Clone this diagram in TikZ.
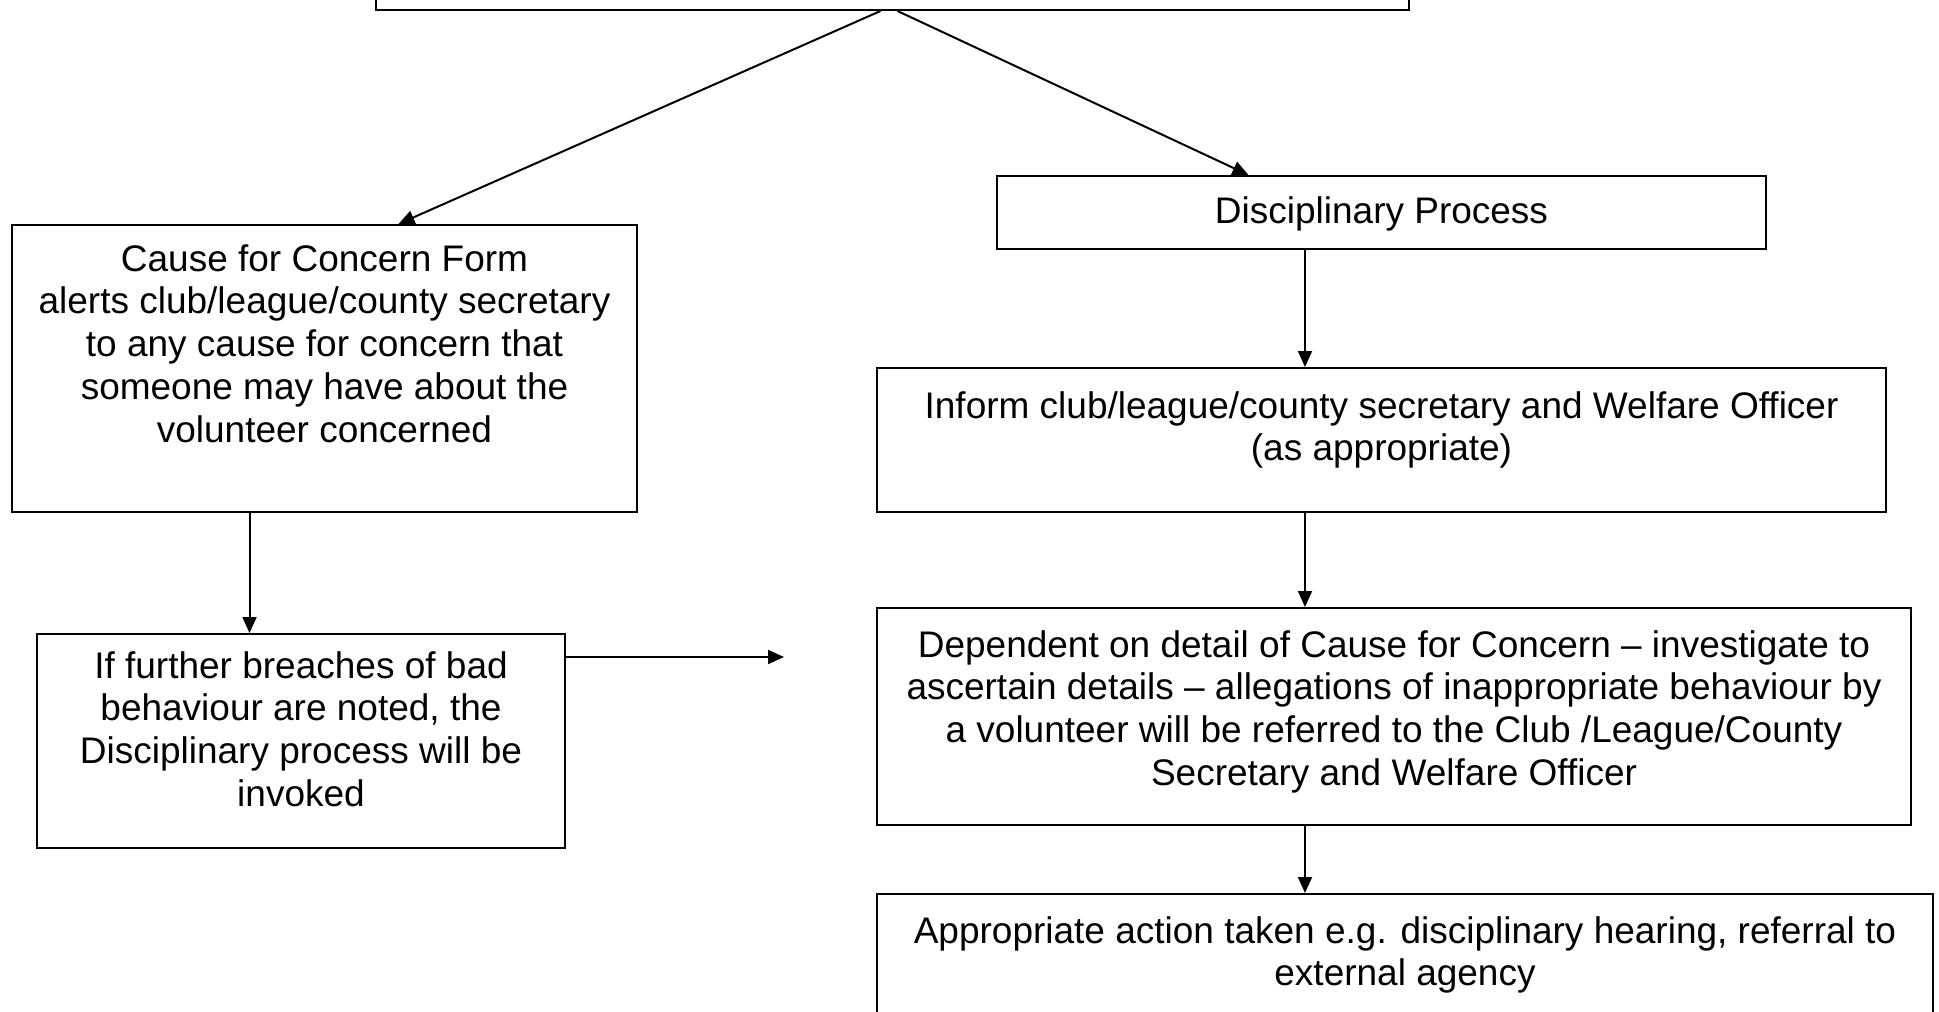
\documentclass[tikz,border=0pt]{standalone}
\usepackage{fontspec}
\setmainfont{Liberation Sans}
\usetikzlibrary{arrows.meta,calc}
\begin{document}
\begin{tikzpicture}[x=1pt,y=-1pt,
  box/.style={draw,line width=2pt,rectangle,inner sep=0pt},
  txt/.style={anchor=north,align=center,inner sep=0pt,font=\fontsize{37}{42.7}\selectfont},
  arr/.style={line width=2pt,-{Triangle[length=16pt,width=14pt]}}]
\clip (0,0) rectangle (1939,1012);
\fill[white] (0,0) rectangle (1939,1012);
% boxes
\node[box,minimum width=1033pt,minimum height=60pt] (top) at (892.5,-20) {};
\node[box,minimum width=625pt,minimum height=287pt] (b1) at (324.5,368.5) {};
\node[box,minimum width=528pt,minimum height=214pt] (b2) at (301,741) {};
\node[box,minimum width=769pt,minimum height=73pt] (disc) at (1381.5,212.5) {};
\node[box,minimum width=1009pt,minimum height=144pt] (inf) at (1381.5,440) {};
\node[box,minimum width=1034pt,minimum height=217pt] (dep) at (1394,716.5) {};
\node[box,minimum width=1056pt,minimum height=160pt] (app) at (1405,974) {};
% texts
\node[txt] (t1) at ($(b1.north)+(0,17)$) {\rule{0pt}{30pt}Cause for Concern Form\\alerts club/league/county secretary\\to any cause for concern that\\someone may have about the\\volunteer concerned};
\node[txt] (t2) at ($(b2.north)+(0,15)$) {\rule{0pt}{30pt}If further breaches of bad\\behaviour are noted, the\\Disciplinary process will be\\invoked};
\node[txt] (t3) at ($(disc.north)+(0,18)$) {\rule{0pt}{30pt}Disciplinary Process};
\node[txt] (t4) at ($(inf.north)+(0,21)$) {\rule{0pt}{30pt}Inform club/league/county secretary and Welfare Officer\\(as appropriate)};
\node[txt] (t5) at ($(dep.north)+(0,20)$) {\rule{0pt}{30pt}Dependent on detail of Cause for Concern – investigate to\\ascertain details – allegations of inappropriate behaviour by\\a volunteer will be referred to the Club /League/County\\Secretary and Welfare Officer};
\node[txt] (t6) at ($(app.north)+(0,20)$) {\rule{0pt}{30pt}Appropriate action taken e.g. disciplinary hearing, referral to\\external agency};
% helper coordinates
\coordinate (rx) at (1305,0);
\coordinate (hend) at (784,657);
% connectors
\draw[arr] ([xshift=-12pt]top.south) -- ([xshift=74pt]b1.north);
\draw[arr] ([xshift=5pt]top.south) -- ([xshift=-133pt]disc.north);
\draw[arr] ([xshift=-75pt]b1.south) -- ([xshift=-75pt]b1.south |- b2.north);
\draw[arr] (b2.east |- hend) -- (hend);
\draw[arr] (disc.south -| rx) -- (inf.north -| rx);
\draw[arr] (inf.south -| rx) -- (dep.north -| rx);
\draw[arr] (dep.south -| rx) -- (app.north -| rx);
\end{tikzpicture}
\end{document}
